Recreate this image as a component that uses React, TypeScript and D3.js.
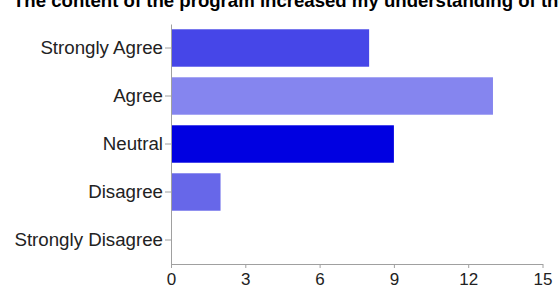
import { useEffect, useRef } from "react";
import * as d3 from "d3";

const TITLE = "The content of the program increased my understanding of the topic";
const CATEGORIES = ["Strongly Agree", "Agree", "Neutral", "Disagree", "Strongly Disagree"];
const COUNTS = [8, 13, 9, 2, 0];
const BAR_COLORS = ["#4646e8", "#8585ef", "#0000e1", "#6767e9", "#4646e8"];
const X_TICKS = [0, 3, 6, 9, 12, 15];

const WIDTH = 559;
const HEIGHT = 287;
const MARGIN = { top: 24, right: 16, bottom: 23, left: 171 };
const AXIS_COLOR = "#a0a0a0";
const TEXT_COLOR = "#222222";
const FONT = "'Liberation Sans', Arial, sans-serif";

export default function App() {
  const svgRef = useRef<SVGSVGElement>(null);

  useEffect(() => {
    const svg = d3.select(svgRef.current);
    svg.selectAll("*").remove();

    const innerW = WIDTH - MARGIN.left - MARGIN.right;
    const innerH = HEIGHT - MARGIN.top - MARGIN.bottom;

    const x = d3.scaleLinear().domain([0, 15]).range([0, innerW - 0.5]);
    const y = d3
      .scaleBand<string>()
      .domain(CATEGORIES)
      .range([0, innerH])
      .paddingInner(0.22)
      .paddingOuter(0.11);

    svg
      .append("text")
      .attr("x", 13)
      .attr("y", 7)
      .attr("fill", "#000")
      .attr("font-size", 18.6)
      .attr("font-weight", "bold")
      .style("font-family", FONT)
      .text(TITLE);

    const g = svg.append("g").attr("transform", `translate(${MARGIN.left},${MARGIN.top})`);

    // bars
    g.selectAll("rect.bar")
      .data(COUNTS)
      .join("rect")
      .attr("class", "bar")
      .attr("x", 0)
      .attr("y", (_, i) => y(CATEGORIES[i])!)
      .attr("width", (d) => x(d) - x(0))
      .attr("height", y.bandwidth())
      .attr("fill", (_, i) => BAR_COLORS[i]);

    // y axis
    const yAxis = g
      .append("g")
      .call(d3.axisLeft(y).tickSize(6).tickSizeOuter(0).tickPadding(2));
    yAxis.select(".domain").attr("stroke", AXIS_COLOR);
    yAxis.selectAll(".tick line").attr("stroke", AXIS_COLOR);
    yAxis
      .selectAll(".tick text")
      .attr("fill", TEXT_COLOR)
      .attr("font-size", 18.7)
      .style("font-family", FONT);

    // x axis
    const xAxis = g
      .append("g")
      .attr("transform", `translate(0,${innerH})`)
      .call(d3.axisBottom(x).tickValues(X_TICKS).tickSize(4).tickSizeOuter(0).tickPadding(5));
    xAxis.select(".domain").attr("stroke", AXIS_COLOR);
    xAxis.selectAll(".tick line").attr("stroke", AXIS_COLOR);
    xAxis
      .selectAll(".tick text")
      .attr("fill", TEXT_COLOR)
      .attr("font-size", 17)
      .style("font-family", FONT);
  }, []);

  return (
    <svg
      ref={svgRef}
      width={WIDTH}
      height={HEIGHT}
      style={{ position: "absolute", left: 0, top: 0, background: "#fff" }}
    />
  );
}
